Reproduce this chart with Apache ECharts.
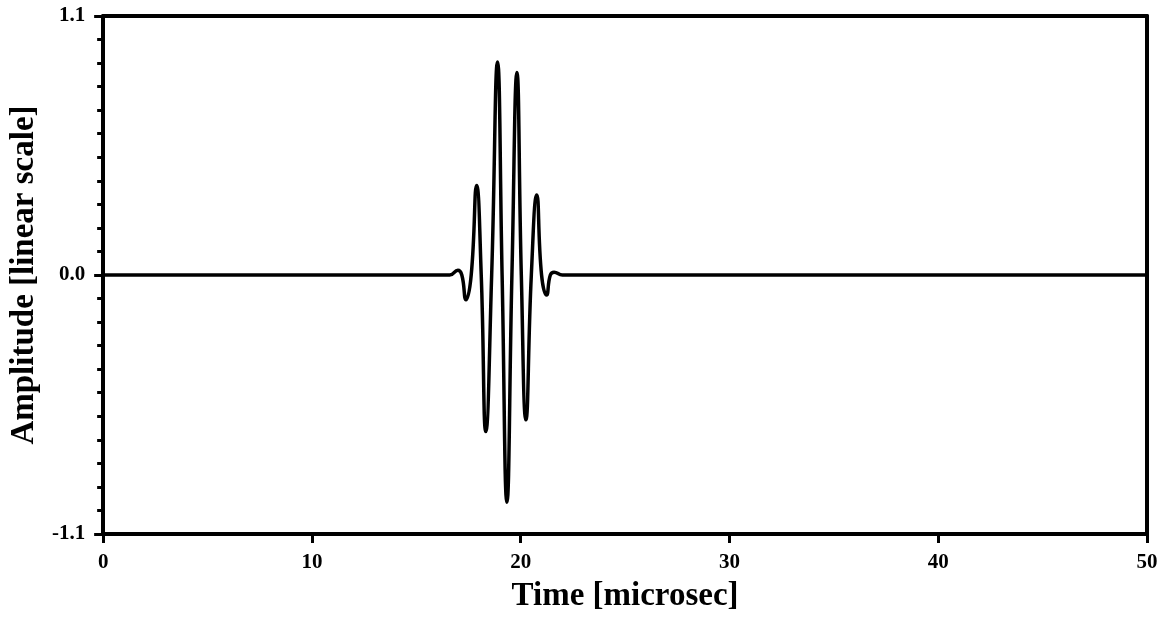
<html>
<head>
<meta charset="utf-8">
<title>Amplitude vs Time</title>
<script src="https://cdn.jsdelivr.net/npm/echarts@6/dist/echarts.min.js"></script>
<style>
  html, body { margin: 0; padding: 0; background: #fff; }
  #main { width: 1170px; height: 618px; }
</style>
</head>
<body>
<div id="main"></div>
<script>
// extrema and zero crossings of the pulse
var timeUs = [0, 10, 16.6, 16.99, 17.18, 17.38, 17.63, 17.89, 18.11, 18.33, 18.61, 18.89, 19.11, 19.34, 19.58, 19.82, 20.03, 20.25, 20.51, 20.77, 21.0, 21.24, 21.42, 21.6, 22.0, 30, 40, 50];
var amplitude = [0, 0, 0, 0.02, 0, -0.105, 0, 0.38, 0, -0.665, 0, 0.905, 0, -0.965, 0, 0.86, 0, -0.615, 0, 0.34, 0, -0.085, 0, 0.012, 0, 0, 0, 0];
var xTicks = [0, 10, 20, 30, 40, 50];
var yTicks = [-1.1, 0, 1.1];

var chart = echarts.init(document.getElementById('main'));

var points = timeUs.map(function (t, i) { return [t, amplitude[i]]; });
var serif = 'Liberation Serif';

chart.setOption({
    animation: false,
    grid: { left: 102, right: 23, top: 16, bottom: 84 },
    xAxis: [
        {
            type: 'value', min: xTicks[0], max: xTicks[xTicks.length - 1], interval: 10,
            name: 'Time [microsec]', nameLocation: 'middle', nameGap: 46,
            nameTextStyle: { fontFamily: serif, fontSize: 33, fontWeight: 'bold', color: '#000' },
            axisLine: { onZero: false, lineStyle: { color: '#000', width: 4 } },
            axisTick: { length: 9, lineStyle: { color: '#000', width: 3 } },
            axisLabel: { fontFamily: serif, fontSize: 21, fontWeight: 'bold', color: '#000', margin: 18 },
            splitLine: { show: false }
        },
        {
            type: 'value', position: 'top', min: 0, max: 50,
            axisLine: { show: true, onZero: false, lineStyle: { color: '#000', width: 4 } },
            axisTick: { show: false }, axisLabel: { show: false }, splitLine: { show: false }
        }
    ],
    yAxis: [
        {
            type: 'value', min: yTicks[0], max: yTicks[2], interval: 1.1,
            name: 'Amplitude [linear scale]', nameLocation: 'middle', nameGap: 62,
            nameTextStyle: { fontFamily: serif, fontSize: 33, fontWeight: 'bold', color: '#000' },
            axisLine: { onZero: false, lineStyle: { color: '#000', width: 4 } },
            axisTick: { length: 9, lineStyle: { color: '#000', width: 3 } },
            minorTick: { show: true, splitNumber: 11, length: 6, lineStyle: { color: '#000', width: 3 } },
            axisLabel: {
                fontFamily: serif, fontSize: 21, fontWeight: 'bold', color: '#000', margin: 18,
                formatter: function (v) { return v.toFixed(1); }
            },
            splitLine: { show: false }
        },
        {
            type: 'value', position: 'right', min: -1.1, max: 1.1,
            axisLine: { show: true, onZero: false, lineStyle: { color: '#000', width: 4 } },
            axisTick: { show: false }, axisLabel: { show: false }, splitLine: { show: false }
        }
    ],
    series: [{
        type: 'line',
        data: points,
        smooth: 0.5,
        showSymbol: false,
        lineStyle: { color: '#000', width: 3.5 }
    }]
});
</script>
</body>
</html>
